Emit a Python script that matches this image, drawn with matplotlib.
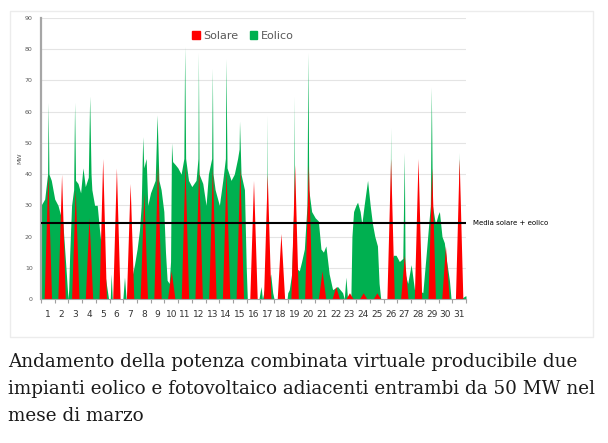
import matplotlib
matplotlib.use("Agg")
import matplotlib.pyplot as plt
from matplotlib.patches import Patch, Rectangle


# giorni del mese di marzo
giorni = list(range(1, 32))

# picco giornaliero del fotovoltaico (MW)
solare_picco = [40, 40, 35, 26, 45, 42, 37, 34, 43, 9,
                43, 42, 42, 41, 42, 38, 40, 21, 43, 43,
                9, 4, 2, 2, 2, 45, 14, 45, 42, 17, 45]
ore_sole = [5.5, 12, 18.5]          # alba, mezzogiorno, tramonto

# profilo superiore dell'area verde (solare + eolico), tempo in giorni
eolico_t = [0.00, 0.27, 0.48, 0.52, 0.58, 0.75, 1.00,
            1.24, 1.60, 1.85, 1.97,
            2.02, 2.09, 2.23, 2.38, 2.45, 2.52, 2.70, 2.89,
            3.06, 3.23, 3.45, 3.55, 3.65, 3.71, 3.91,
            4.10, 4.27, 4.52, 4.76, 4.93,
            5.05, 5.12, 5.20, 5.97, 6.09, 6.21, 6.45, 6.58, 6.82,
            7.01, 7.18, 7.31, 7.42, 7.50, 7.67, 7.79, 7.99,
            8.16, 8.33, 8.47, 8.60, 8.76, 8.96,
            9.08, 9.20, 9.35, 9.45, 9.52, 9.60, 9.80, 9.98,
            10.22, 10.42, 10.48, 10.55, 10.76, 11.00,
            11.31, 11.45, 11.48, 11.53, 11.80, 12.04,
            12.21, 12.45, 12.50, 12.55, 12.70, 13.01,
            13.26, 13.45, 13.49, 13.57, 13.86, 14.10,
            14.34, 14.45, 14.48, 14.59, 14.84, 14.97, 15.05,
            15.90, 16.05, 16.15, 16.30, 16.44, 16.47, 16.50, 16.60, 16.75, 16.90, 17.00,
            17.95, 18.00, 18.11, 18.28, 18.44, 18.47, 18.50, 18.60, 18.84,
            19.01, 19.21, 19.40, 19.47, 19.53, 19.74, 20.00,
            20.23, 20.42, 20.60, 20.78,
            21.02, 21.27, 21.63, 22.00, 22.12, 22.24, 22.36, 22.60,
            22.68, 22.80, 22.97, 23.09, 23.28, 23.40, 23.57, 23.82,
            24.01, 24.18, 24.35, 24.54, 24.66, 24.78,
            25.30, 25.45, 25.50, 25.55, 25.70, 25.90,
            26.14, 26.39, 26.50, 26.56, 26.75, 27.00,
            27.24, 27.50, 27.85, 27.97,
            28.09, 28.28, 28.40, 28.47, 28.55, 28.77, 28.96,
            29.06, 29.25, 29.42, 29.59, 29.79, 29.91,
            30.40, 30.50, 30.60, 30.95, 31.00]
eolico_mw = [30, 32, 40, 63, 40, 38, 32,
             30, 24, 8, 0,
             3, 14, 30, 35, 63, 38, 37, 34,
             42, 36, 39, 65, 40, 35, 30,
             30, 22, 12, 5, 0,
             0, 8, 0, 0, 7, 0, 0, 6, 11,
             16, 22, 30, 52, 42, 45, 30, 34,
             36, 38, 59, 38, 35, 28,
             15, 6, 5, 12, 50, 44, 43, 42,
             40, 45, 81, 45, 38, 36,
             38, 45, 79, 40, 37, 30,
             40, 45, 74, 40, 35, 30,
             38, 45, 77, 42, 38, 40,
             45, 48, 57, 40, 35, 10, 0,
             0, 4, 0, 3, 20, 59, 20, 6, 8, 2, 0,
             0, 2, 3, 8, 30, 65, 30, 10, 9,
             12, 16, 30, 79, 35, 28, 26,
             25, 16, 15, 17,
             8, 3, 4, 2, 0, 7, 0, 0,
             20, 28, 30, 31, 28, 24, 30, 38,
             30, 24, 20, 17, 5, 0,
             0, 10, 55, 12, 14, 14,
             12, 13, 47, 8, 5, 11,
             3, 3, 2, 8,
             14, 24, 30, 68, 30, 24, 27,
             28, 20, 18, 12, 6, 0,
             0, 47, 0, 1, 1]

media = 24.4

# triangoli del fotovoltaico
sol_t, sol_mw = [0], [0]
for g, p in zip(giorni, solare_picco):
    sol_t += [g - 1 + h / 24 for h in ore_sole]
    sol_mw += [0, p, 0]
sol_t.append(31)
sol_mw.append(0)

verde = '#00b050'
rosso = '#ff0000'
grigio = '#595959'

fig = plt.figure(figsize=(6.08, 4.43), dpi=100)
fig.add_artist(Rectangle((10 / 608, 1 - 337 / 443), 583 / 608, 326 / 443,
                         transform=fig.transFigure, fill=False,
                         edgecolor='#ececec', lw=1))
ax = fig.add_axes([41 / 608, 1 - 299 / 443, 425 / 608, 281 / 443])

ax.fill_between(eolico_t, 0, eolico_mw, color=verde, lw=0)
ax.fill_between(sol_t, 0, sol_mw, color=rosso, lw=0)
ax.axhline(media, color='black', lw=1.5, zorder=5)
ax.text(1.016, media / 90, 'Media solare + eolico', transform=ax.transAxes,
        fontsize=5, va='center', ha='left', color='black')

ax.set_xlim(0, 31)
ax.set_ylim(0, 90)
ax.set_yticks(range(0, 91, 10))
ax.grid(axis='y', color='#e4e4e4', lw=0.8)
ax.set_axisbelow(True)
ax.set_xticks(range(0, 32))
ax.set_xticklabels([])
ax.set_xticks([g - 0.5 for g in giorni], minor=True)
ax.set_xticklabels([str(g) for g in giorni], minor=True)
ax.tick_params(axis='x', which='major', length=3, color='#a0a0a0', width=0.8)
ax.tick_params(axis='x', which='minor', length=0, pad=8, labelsize=6.5,
               labelcolor='#333333')
ax.tick_params(axis='y', length=0, pad=6, labelsize=4.5, labelcolor=grigio)
for s in ['top', 'right']:
    ax.spines[s].set_visible(False)
ax.spines['left'].set_color('#a6a6a6')
ax.spines['left'].set_linewidth(1.6)
ax.spines['bottom'].set_color('#a6a6a6')
ax.spines['bottom'].set_linewidth(0.8)
ax.set_ylabel('MW', fontsize=4.5, color=grigio, labelpad=2)

maniglie = [Patch(color=rosso, label='Solare'), Patch(color=verde, label='Eolico')]
leg = ax.legend(handles=maniglie, loc='center', bbox_to_anchor=(0.475, 0.935),
                ncol=2, frameon=False, fontsize=8, handlelength=0.7,
                handleheight=0.7, handletextpad=0.3, columnspacing=1.0)
for t in leg.get_texts():
    t.set_color(grigio)

didascalia = ['Andamento della potenza combinata virtuale producibile due',
              'impianti eolico e fotovoltaico adiacenti entrambi da 50 MW nel',
              'mese di marzo']
for i, riga in enumerate(didascalia):
    fig.text(8 / 608, 1 - (362 + 27 * i) / 443, riga, fontsize=13.2,
             family='DejaVu Serif', color='#1a1a1a', va='center', ha='left')

fig.savefig('out.png', dpi=100)
